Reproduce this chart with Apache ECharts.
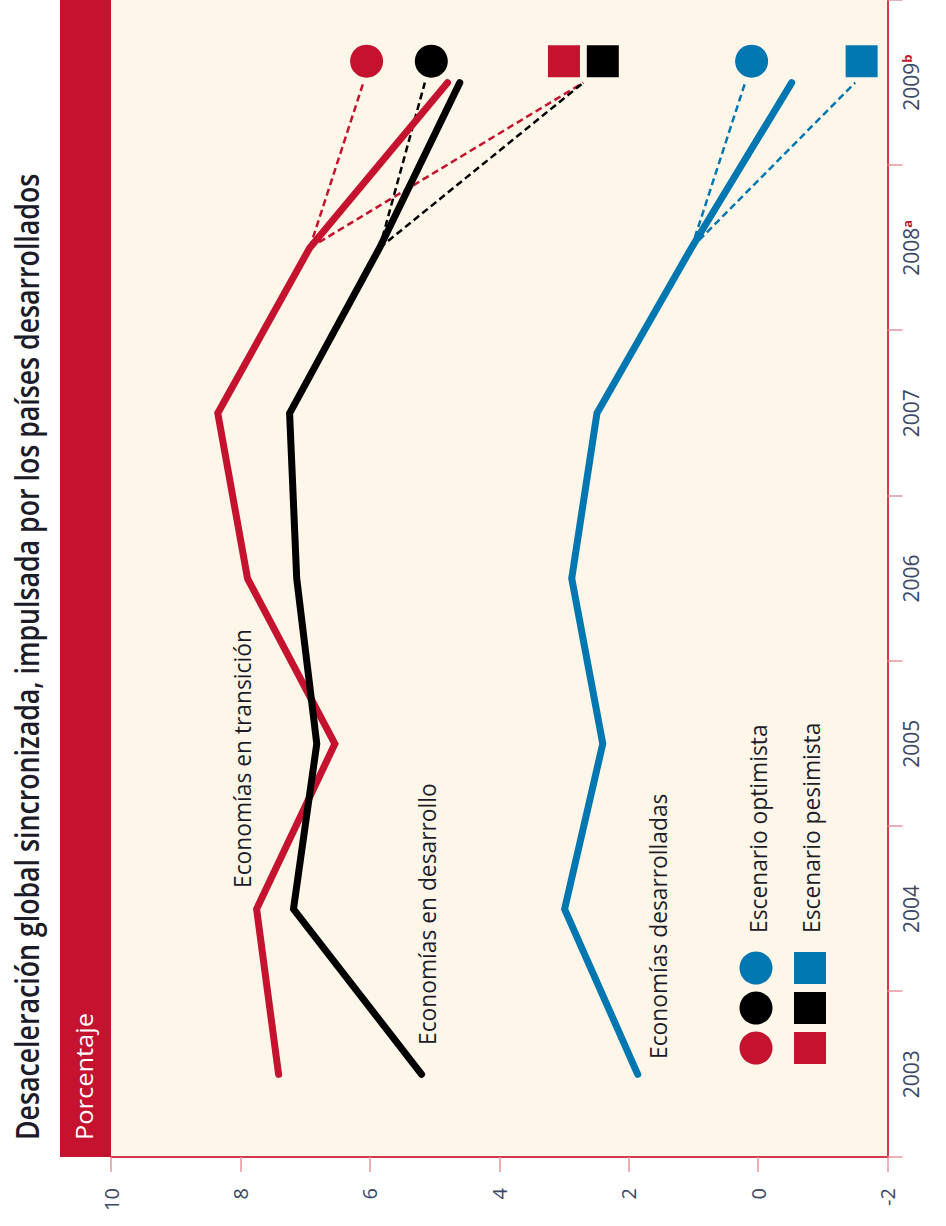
<!DOCTYPE html>
<html>
<head>
<meta charset="utf-8">
<script src="https://cdn.jsdelivr.net/npm/echarts@6/dist/echarts.min.js"></script>
<style>
html,body{margin:0;padding:0;width:946px;height:1226px;overflow:hidden;background:#ffffff;}
#chart{position:absolute;left:0;top:0;width:1226px;height:946px;transform-origin:0 0;transform:translateY(1226px) rotate(-90deg);}
</style>
</head>
<body>
<div id="chart"></div>
<script>
// ---------------- data ----------------
const title = 'Desaceleración global sincronizada, impulsada por los países desarrollados';
const unitLabel = 'Porcentaje';
const years = [2003, 2004, 2005, 2006, 2007, 2008, 2009];
const yearNotes = ['', '', '', '', '', 'a', 'b'];
const valueTicks = [-2, 0, 2, 4, 6, 8, 10];

const seriesNames = ['Economías en transición', 'Economías en desarrollo', 'Economías desarrolladas'];
const transicion = [7.41, 7.75, 6.54, 7.89, 8.35, 6.93, 4.80];
const desarrollo = [5.20, 7.18, 6.82, 7.13, 7.24, 5.85, 4.61];
const desarrolladas = [1.86, 2.99, 2.40, 2.88, 2.49, 1.03, -0.52];

// scenario end values for 2009 (dashed lines), order: transición, desarrollo, desarrolladas
const optimistaLine = [6.10, 5.15, 0.20];
const pesimistaLine = [2.70, 2.70, -1.50];
// scenario marker values (drawn just beyond 2009)
const scenarioX = 2009.13;
const optimistaMark = [6.05, 5.05, 0.10];
const pesimistaMark = [3.00, 2.40, -1.60];
const legendNames = ['Escenario optimista', 'Escenario pesimista'];

// ---------------- styles ----------------
const RED = '#c4122f', BLACK = '#000000', BLUE = '#0077b0';
const colors = [RED, BLACK, BLUE];
const CREAM = '#fef6e9';
const AXIS = '#d4384f', TICK = '#e8939b';
const LABEL = '#3b4866', TEXT = '#1b1c28';
const FONT = "'Open Sans', sans-serif";

const mctx = document.createElement('canvas').getContext('2d');
function textW(t, weight, size) { mctx.font = weight + ' ' + size + 'px "Open Sans"'; return mctx.measureText(t).width; }
const titleScale = 967 / textW(title, 600, 32);
const unitScale = 127 / textW(unitLabel, 400, 24);
const annScale = 262 / textW(seriesNames[1], 400, 24);

const chart = echarts.init(document.getElementById('chart'), null, { renderer: 'svg', width: 1226, height: 946 });

const allSeries = [transicion, desarrollo, desarrolladas];
const series = [];
// dashed scenario lines
allSeries.forEach((s, i) => {
  [optimistaLine, pesimistaLine].forEach(sc => {
    series.push({
      type: 'line', data: [[years[5], s[5]], [years[6], sc[i]]],
      symbol: 'none', silent: true, z: 2, animation: false,
      lineStyle: { color: colors[i], width: 2.5, type: [7, 4], opacity: 1 }
    });
  });
});
// solid lines
allSeries.forEach((s, i) => {
  series.push({
    type: 'line', name: seriesNames[i], data: years.map((y, k) => [y, s[k]]),
    symbol: 'none', silent: true, z: 3, animation: false,
    lineStyle: { color: colors[i], width: 7, cap: 'round', join: 'miter', opacity: 1 }
  });
});
// scenario markers
allSeries.forEach((s, i) => {
  series.push({ type: 'scatter', data: [[scenarioX, optimistaMark[i]]], symbol: 'circle', symbolSize: 33,
    itemStyle: { color: colors[i], opacity: 1 }, silent: true, z: 4, animation: false });
  series.push({ type: 'scatter', data: [[scenarioX, pesimistaMark[i]]], symbol: 'rect', symbolSize: 32,
    itemStyle: { color: colors[i], opacity: 1 }, silent: true, z: 4, animation: false });
});

const halfTicks = years.map(y => y - 0.5).concat([years[years.length - 1] + 0.5]);

const graphic = [
  { type: 'rect', shape: { x: 69, y: 60, width: 1226 - 69, height: 51 }, style: { fill: RED }, z: 10 },
  { type: 'text', x: 86, y: 27, scaleX: titleScale, z: 10,
    style: { text: title, fontFamily: FONT, fontSize: 32, fontWeight: 600, fill: TEXT, align: 'left', verticalAlign: 'middle' } },
  { type: 'text', x: 86, y: 84, scaleX: unitScale, z: 11,
    style: { text: unitLabel, fontFamily: FONT, fontSize: 24, fill: '#ffffff', align: 'left', verticalAlign: 'middle' } },
  { type: 'text', x: 338, y: 242, scaleX: annScale, z: 10,
    style: { text: seriesNames[0], fontFamily: FONT, fontSize: 24, fill: TEXT, align: 'left', verticalAlign: 'middle' } },
  { type: 'text', x: 181, y: 427, scaleX: annScale, z: 10,
    style: { text: seriesNames[1], fontFamily: FONT, fontSize: 24, fill: TEXT, align: 'left', verticalAlign: 'middle' } },
  { type: 'text', x: 167, y: 658, scaleX: annScale, z: 10,
    style: { text: seriesNames[2], fontFamily: FONT, fontSize: 24, fill: TEXT, align: 'left', verticalAlign: 'middle' } },
  { type: 'text', x: 293, y: 758, scaleX: annScale, z: 10,
    style: { text: legendNames[0], fontFamily: FONT, fontSize: 24, fill: TEXT, align: 'left', verticalAlign: 'middle' } },
  { type: 'text', x: 293, y: 811, scaleX: annScale, z: 10,
    style: { text: legendNames[1], fontFamily: FONT, fontSize: 24, fill: TEXT, align: 'left', verticalAlign: 'middle' } }
];
[RED, BLACK, BLUE].forEach((c, i) => {
  const cx = 178 + i * 40;
  graphic.push({ type: 'circle', shape: { cx: cx, cy: 756, r: 16.5 }, style: { fill: c }, z: 10 });
  graphic.push({ type: 'rect', shape: { x: cx - 16, y: 794, width: 32, height: 32 }, style: { fill: c }, z: 10 });
});

chart.setOption({
  animation: false,
  backgroundColor: '#ffffff',
  grid: { left: 69, right: 0, top: 111, bottom: 58.5, show: true, backgroundColor: CREAM, borderWidth: 0, containLabel: false, outerBoundsMode: 'none' },
  xAxis: {
    type: 'value', min: 2002.5, max: 2009.5, position: 'bottom',
    axisLine: { show: true, onZero: false, lineStyle: { color: AXIS, width: 2 } },
    axisTick: { show: true, length: 15, customValues: halfTicks, lineStyle: { color: TICK, width: 1.5 } },
    axisLabel: {
      show: true, customValues: years, margin: 13, color: LABEL, fontFamily: FONT, fontSize: 21,
      formatter: function (v) {
        const i = years.indexOf(Math.round(v));
        return yearNotes[i] ? '{y|' + years[i] + '}{n|' + yearNotes[i] + '}' : '{y|' + years[i] + '}';
      },
      rich: {
        y: { color: LABEL, fontFamily: FONT, fontSize: 21 },
        n: { color: RED, fontFamily: FONT, fontSize: 13, fontWeight: 700, verticalAlign: 'top' }
      }
    },
    splitLine: { show: false }
  },
  yAxis: {
    type: 'value', min: valueTicks[0], max: valueTicks[valueTicks.length - 1], interval: 2,
    axisLine: { show: true, onZero: false, lineStyle: { color: AXIS, width: 2 } },
    axisTick: { show: true, length: 15, lineStyle: { color: TICK, width: 1.5 } },
    axisLabel: { show: true, margin: 31, color: LABEL, fontFamily: FONT, fontSize: 20 },
    splitLine: { show: false }
  },
  graphic: graphic,
  series: series
});
</script>
</body>
</html>
